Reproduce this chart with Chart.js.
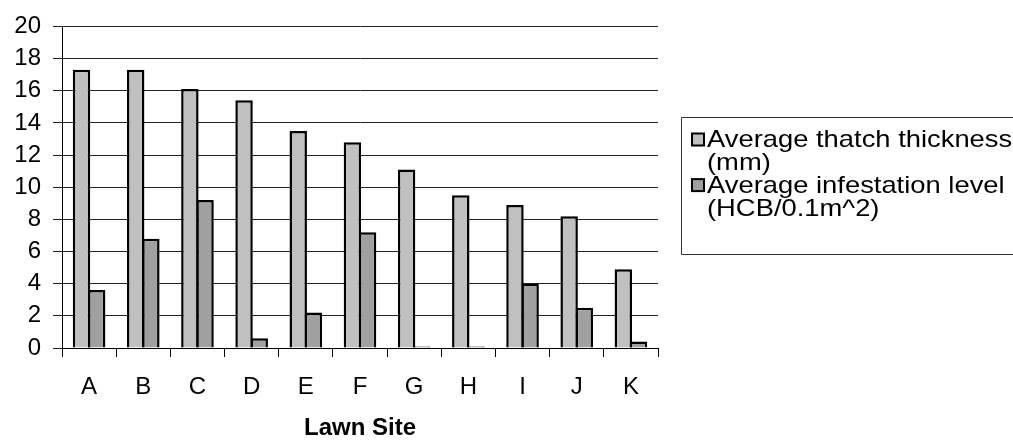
<!DOCTYPE html>
<html>
<head>
<meta charset="utf-8">
<script src="https://cdn.jsdelivr.net/npm/chart.js@4/dist/chart.umd.min.js"></script>
<style>
  html, body { margin: 0; padding: 0; background: #fff; }
  #wrap { width: 1013px; height: 443px; position: relative; }
</style>
</head>
<body>
<div id="wrap"><canvas id="c" width="1013" height="443"></canvas></div>
<script>
// Lawn sites surveyed
const sites = ['A', 'B', 'C', 'D', 'E', 'F', 'G', 'H', 'I', 'J', 'K'];
// Average thatch thickness per site (mm)
const thatchThickness = [17.3, 17.3, 16.1, 15.4, 13.5, 12.8, 11.1, 9.5, 8.9, 8.2, 4.9];
// Average infestation level per site (HCB per 0.1 m^2)
const infestationLevel = [3.6, 6.8, 9.2, 0.6, 2.2, 7.2, 0.1, 0.1, 4.0, 2.5, 0.4];
// Legend text, one entry per series, split into lines
const legendLines = [
  ['Average thatch thickness', '(mm)'],
  ['Average infestation level', '(HCB/0.1m^2)']
];
const xTitle = 'Lawn Site';

const FONT = "'Liberation Sans', Arial, sans-serif";

// Boxed legend on the right, drawn from the dataset colours
const boxLegend = {
  id: 'boxLegend',
  afterDraw(chart) {
    const ctx = chart.ctx;
    const left = 681, top = 117, bottom = 254;
    ctx.save();
    ctx.strokeStyle = '#333';
    ctx.lineWidth = 1;
    ctx.beginPath();
    ctx.moveTo(1013, top + 0.5);
    ctx.lineTo(left + 0.5, top + 0.5);
    ctx.lineTo(left + 0.5, bottom + 0.5);
    ctx.lineTo(1013, bottom + 0.5);
    ctx.stroke();

    const lineH = 22.8;
    const stretch = 1.14;
    let y = 140.5;
    chart.data.datasets.forEach((ds, i) => {
      // marker square
      ctx.fillStyle = ds.backgroundColor;
      ctx.fillRect(692, y - 7, 12, 12);
      ctx.strokeStyle = '#000';
      ctx.lineWidth = 2;
      ctx.strokeRect(692, y - 7, 12, 12);
      // label lines, drawn slightly widened
      ctx.save();
      ctx.translate(707, 0);
      ctx.scale(stretch, 1);
      ctx.font = '24px ' + FONT;
      ctx.fillStyle = '#000';
      ctx.textBaseline = 'middle';
      ctx.textAlign = 'left';
      legendLines[i].forEach((t, k) => {
        ctx.fillText(t, 0, y + k * lineH);
      });
      ctx.restore();
      y += lineH * legendLines[i].length;
    });
    ctx.restore();
  }
};

const barStyle = {
  borderColor: '#000',
  borderWidth: 2.5,
  borderSkipped: 'start',
  categoryPercentage: 0.56,
  barPercentage: 1.15
};

new Chart(document.getElementById('c'), {
  type: 'bar',
  data: {
    labels: sites,
    datasets: [
      Object.assign({
        label: legendLines[0].join(' '),
        data: thatchThickness,
        backgroundColor: '#C0C0C0'
      }, barStyle),
      Object.assign({
        label: legendLines[1].join(' '),
        data: infestationLevel,
        backgroundColor: '#A0A0A0'
      }, barStyle)
    ]
  },
  options: {
    responsive: false,
    animation: false,
    devicePixelRatio: 1,
    layout: { padding: { top: 24, right: 355, left: 0, bottom: 0 } },
    plugins: {
      legend: { display: false },
      tooltip: { enabled: false }
    },
    scales: {
      x: {
        offset: true,
        grid: {
          offset: true,
          drawOnChartArea: false,
          drawTicks: true,
          tickLength: 9,
          color: '#000',
          lineWidth: 1
        },
        border: { display: true, color: '#000', width: 1 },
        ticks: {
          color: '#000',
          font: { family: FONT, size: 24 },
          padding: 16,
          maxRotation: 0
        },
        title: {
          display: true,
          text: xTitle,
          color: '#000',
          font: { family: FONT, size: 24, weight: 'bold' },
          padding: { top: 7, bottom: 0 }
        },
        afterFit(scale) { scale.height = 95; }
      },
      y: {
        min: 0,
        max: 20,
        ticks: {
          stepSize: 2,
          color: '#000',
          font: { family: FONT, size: 24 },
          padding: 12
        },
        grid: {
          color: '#222',
          lineWidth: 1,
          drawTicks: true,
          tickLength: 9
        },
        border: { display: true, color: '#000', width: 1 },
        afterFit(scale) { scale.width = 62; }
      }
    }
  },
  plugins: [boxLegend]
});
</script>
</body>
</html>
